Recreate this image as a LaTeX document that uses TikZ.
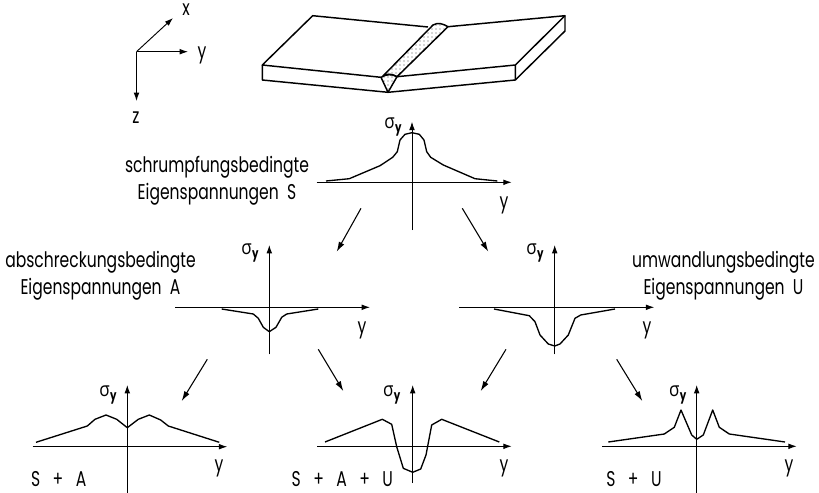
\documentclass[tikz,border=0pt]{standalone}
\usepackage{fontspec}
\setmainfont[FakeStretch=0.73]{Poppins}
\newfontfamily\greekfont[FakeStretch=0.85]{Open Sans}
\newcommand{\sigy}{{\greekfont\fontsize{15}{15}\selectfont σ}\kern0.3pt\raisebox{-3.2pt}{\fontsize{10.5}{10}\selectfont\bfseries y}}
\usepackage{tikz}
\usetikzlibrary{arrows.meta,patterns}

\begin{document}
\begin{tikzpicture}[
  x=0.75pt,y=-0.75pt,
  axisln/.style={-{Latex[length=2.2mm,width=1.5mm]},line width=0.7pt},
  flowarr/.style={-{Latex[length=2.6mm,width=1.6mm]},line width=0.8pt},
  curveln/.style={line width=1pt,line join=round},
  plateln/.style={line width=1.1pt,line join=round},
  lbl/.style={font=\fontsize{16}{20}\selectfont,align=center,inner sep=0pt},
  sig/.style={font=\fontsize{16}{16}\selectfont,inner sep=0pt}
]
\useasboundingbox (0,0) rectangle (819,493);

% coordinate triad
\coordinate (org) at (136.5,51.7);
\coordinate (xtip) at (173,18);
\coordinate (ytip) at (188,51.7);
\coordinate (ztip) at (136.5,101);
\draw[axisln] (org)--(xtip);
\draw[axisln] (org)--(ytip);
\draw[axisln] (org)--(ztip);
\node[sig] (xlab) at (186,10) {x};
\node[sig] (ylab) at (202,55) {y};
\node[sig] (zlab) at (136,118) {z};

% welded plate
\draw[plateln] (428,27)--(312.7,15.7)--(262.3,65)--(381,77.3);
\draw[plateln] (262.3,65)--(262.3,80)--(388,92.3)--(515.3,80)--(515.3,65)--(397,76.7);
\draw[plateln] (448,26.7)--(565,15.7)--(515.3,65);
\draw[plateln] (565,15.7)--(565,31)--(515.3,80);
\draw[plateln,pattern=dots,pattern color=black!70] (383,76)--(433,25) to[out=30,in=150] (448,26.7)--(397,76.7) to[out=150,in=30] cycle;
\draw[plateln,pattern=dots,pattern color=black!70] (381,77.3)--(388,92.3)--(397,76.7) to[out=150,in=30] cycle;

% S
\coordinate (sl) at (316.7,182.3);
\coordinate (sr) at (511.7,182.3);
\coordinate (st) at (412,121.7);
\coordinate (sb) at (412,230);
\draw[axisln] (sl)--(sr);
\draw[axisln] (sb)--(st);
\draw[curveln] (326,181)--(349.3,178.7)--(380,165.7)--(392.7,157.3)--(397.3,151.7)--(400,140)--(405,134.3)--(412,132.7)--(419.3,134.3)--(424,140)--(426.7,151.7)--(430.7,157.3)--(443.3,165)--(475,178.7)--(497.3,181);
\node[sig] (ssig) at (393,127) {\sigy};
\node[sig] (sy) at (504,205) {y};
\node[lbl] (slab) at (217,180.5) {schrumpfungsbedingte\\Eigenspannungen\ \ S};

% A
\coordinate (al) at (175,307.3);
\coordinate (ar) at (370,307.3);
\coordinate (at) at (269.3,245);
\coordinate (ab) at (269.3,354.3);
\draw[axisln] (al)--(ar);
\draw[axisln] (ab)--(at);
\draw[curveln] (221.7,309)--(253.3,314)--(258.3,318.3)--(263.3,327.3)--(269.3,331.7)--(276,327.3)--(281.7,317.3)--(286.7,314)--(318.3,309);
\node[sig] (asig) at (250,253) {\sigy};
\node[sig] (ay) at (362,330) {y};
\node[lbl] (alab) at (100.5,276) {abschreckungsbedingte\\Eigenspannungen\ \ A};

% U
\coordinate (ul) at (459.3,307.3);
\coordinate (ur) at (654.3,307.3);
\coordinate (ut) at (554.7,245);
\coordinate (ub) at (554.7,354.3);
\draw[axisln] (ul)--(ur);
\draw[axisln] (ub)--(ut);
\draw[curveln] (494,309)--(529.3,315.7)--(535,321.7)--(540,335)--(548.3,344)--(554.7,346)--(560,344)--(568.3,335)--(575,318.3)--(580.7,315)--(615,309);
\node[sig] (usig) at (535,253) {\sigy};
\node[sig] (uy) at (647,330) {y};
\node[lbl] (ulab) at (723.5,276) {umwandlungsbedingte\\Eigenspannungen\ \ U};

% S + A
\coordinate (sal) at (32.7,446.7);
\coordinate (sar) at (227.3,446.7);
\coordinate (sat) at (127.3,385);
\coordinate (sab) at (127.3,492.7);
\draw[axisln] (sal)--(sar);
\draw[axisln] (sab)--(sat);
\draw[curveln] (36,442.3)--(87.3,426)--(95,419.3)--(106,415)--(116.7,419.3)--(127.3,427.7)--(138.3,419.3)--(149.3,415)--(160.7,420)--(168.3,426)--(219.3,442.3);
\node[sig] (sasig) at (108,395) {\sigy};
\node[sig] (say) at (219,468) {y};
\node[sig] (salab) at (58.7,479) {S\ \ \ +\ \ \ A};

% S + A + U
\coordinate (saul) at (317.3,446.3);
\coordinate (saur) at (511.7,446.3);
\coordinate (saut) at (412.7,385);
\coordinate (saub) at (412.7,483);
\draw[axisln] (saul)--(saur);
\draw[axisln] (saub)--(saut);
\draw[curveln] (325,442)--(382.3,419.3)--(391.7,424.3)--(396.7,446.7)--(403.3,468.3)--(412.7,472.3)--(420.7,469)--(426,455)--(431.7,425)--(441.7,419.3)--(499.3,442);
\node[sig] (sausig) at (391.7,395) {\sigy};
\node[sig] (sauy) at (504,468) {y};
\node[sig] (saulab) at (342.3,479) {S\ \ \ +\ \ \ A\ \ \ +\ \ \ U};

% S + U
\coordinate (sul) at (602.3,446.3);
\coordinate (sur) at (796.7,446.3);
\coordinate (sut) at (696.7,385);
\coordinate (sub) at (696.7,492.7);
\draw[axisln] (sul)--(sur);
\draw[axisln] (sub)--(sut);
\draw[curveln] (608.3,442)--(664.3,434)--(674.3,427.3)--(681,410)--(691.7,435)--(696.7,439.3)--(703.3,435)--(712.7,410)--(719.3,427.3)--(729.3,434)--(785,442);
\node[sig] (susig) at (677.7,395) {\sigy};
\node[sig] (suy) at (789,468) {y};
\node[sig] (sulab) at (634,479) {S\ \ \ +\ \ \ U};

% arrows between the plots
\coordinate (f1a) at (361,208.3);   \coordinate (f1b) at (336.7,251.7);
\coordinate (f2a) at (462.3,208.3); \coordinate (f2b) at (488.3,251.7);
\coordinate (f3a) at (207.3,359.3); \coordinate (f3b) at (181.7,401);
\coordinate (f4a) at (318.3,349.3); \coordinate (f4b) at (343.3,391);
\coordinate (f5a) at (506,349.3);   \coordinate (f5b) at (480.7,391);
\coordinate (f6a) at (616.7,359.3); \coordinate (f6b) at (642.3,401);
\foreach \n in {1,...,6}
  \draw[flowarr] (f\n a)--(f\n b);
\end{tikzpicture}
\end{document}
